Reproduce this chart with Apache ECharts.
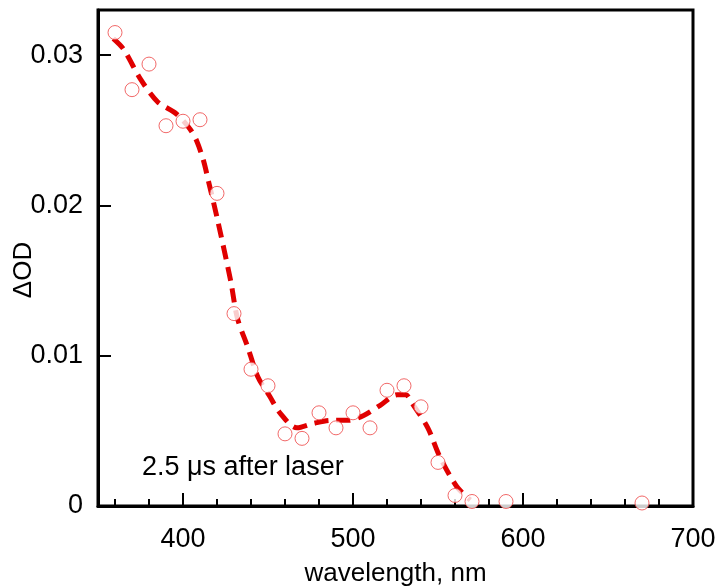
<!DOCTYPE html>
<html>
<head>
<meta charset="utf-8">
<script src="https://cdn.jsdelivr.net/npm/echarts@6/dist/echarts.min.js"></script>
<style>html,body{margin:0;padding:0;background:#fff}#c{width:717px;height:586px}</style>
</head>
<body>
<div id="c"></div>
<script>
// measured data points (wavelength nm, ΔOD)
const wavelengths = [360,370,380,390,400,410,420,430,440,450,460,470,480,490,500,510,520,530,540,550,560,570,590,670];
const deltaOD = [0.0315,0.0277,0.0294,0.0253,0.0256,0.0257,0.0208,0.0128,0.0091,0.0080,0.0048,0.0045,0.0062,0.0052,0.0062,0.0052,0.0077,0.0080,0.0066,0.0029,0.0007,0.0003,0.0003,0.0002];
// dashed fit curve
const fitX = [359,365,375,385,396,404,408,412,415,420,428,432,438,444,451,457,467,477,487,497,506,516,526,531,535,544,551,561,569];
const fitY = [0.0311,0.0304,0.0284,0.0269,0.0261,0.0251,0.0243,0.0230,0.0216,0.0192,0.0150,0.0125,0.0106,0.0086,0.0073,0.0062,0.0052,0.0055,0.0057,0.0057,0.0060,0.0067,0.0074,0.0074,0.0068,0.0052,0.0033,0.0013,0.0004];
// tick labels
const xMajorTicks = [400,500,600];
const xLabels = [400,500,600,700];
const xMinorTicks = [360,380,420,440,460,480,520,540,560,580,620,640,660,680];
const yTicks = [0,0.01,0.02,0.03];
const annotation = '2.5 \u03bcs after laser';

const font = 'Liberation Sans, Arial, Helvetica, sans-serif';
const chart = echarts.init(document.getElementById('c'));
chart.setOption({
  animation: false,
  backgroundColor: '#fff',
  grid: { left: 98, right: 24, top: 10, bottom: 80, show: true, borderColor: '#000', borderWidth: 3, backgroundColor: 'transparent', containLabel: false, outerBoundsMode: 'none' },
  xAxis: [{
    type: 'value', min: 350, max: 700,
    name: 'wavelength, nm', nameLocation: 'middle', nameGap: 55,
    nameTextStyle: { fontFamily: font, fontSize: 26, color: '#000' },
    axisLine: { show: true, lineStyle: { color: '#000', width: 3 } },
    axisTick: { show: true, inside: true, length: 13, lineStyle: { color: '#000', width: 2 }, customValues: xMajorTicks },
    axisLabel: { fontFamily: font, fontSize: 27, color: '#000', margin: 20, customValues: xLabels },
    splitLine: { show: false }
  }, {
    type: 'value', min: 350, max: 700, position: 'bottom',
    axisLine: { show: false },
    axisTick: { show: true, inside: true, length: 7, lineStyle: { color: '#000', width: 2 }, customValues: xMinorTicks },
    axisLabel: { show: false },
    splitLine: { show: false }
  }],
  yAxis: {
    type: 'value', min: 0, max: 0.033,
    name: '\u0394OD', nameLocation: 'middle', nameGap: 61, nameRotate: 90, nameMoveOverlap: false,
    nameTextStyle: { fontFamily: font, fontSize: 26, color: '#000', padding: [0, 24, 0, 0] },
    axisLine: { show: true, lineStyle: { color: '#000', width: 3 } },
    axisTick: { show: true, inside: true, length: 13, lineStyle: { color: '#000', width: 2 }, customValues: yTicks },
    axisLabel: { fontFamily: font, fontSize: 27, color: '#000', margin: 15, customValues: yTicks,
      formatter: v => v === 0 ? '0' : v.toFixed(2) },
    splitLine: { show: false }
  },
  graphic: [{
    type: 'text', left: 142, top: 454, z: 10,
    style: { text: annotation, fontFamily: font, fontSize: 27, fill: '#000' }
  }],
  series: [{
    type: 'line', xAxisIndex: 0, z: 2,
    data: fitX.map((x, i) => [x, fitY[i]]),
    smooth: 0.3, showSymbol: false, symbol: 'none',
    lineStyle: { color: '#e00000', width: 5, type: [14, 8] }
  }, {
    type: 'scatter', xAxisIndex: 0, z: 3,
    data: wavelengths.map((x, i) => [x, deltaOD[i]]),
    symbol: 'circle', symbolSize: 14,
    itemStyle: { color: '#fff', borderColor: '#ee4444', borderWidth: 1 }
  }]
});
</script>
</body>
</html>
